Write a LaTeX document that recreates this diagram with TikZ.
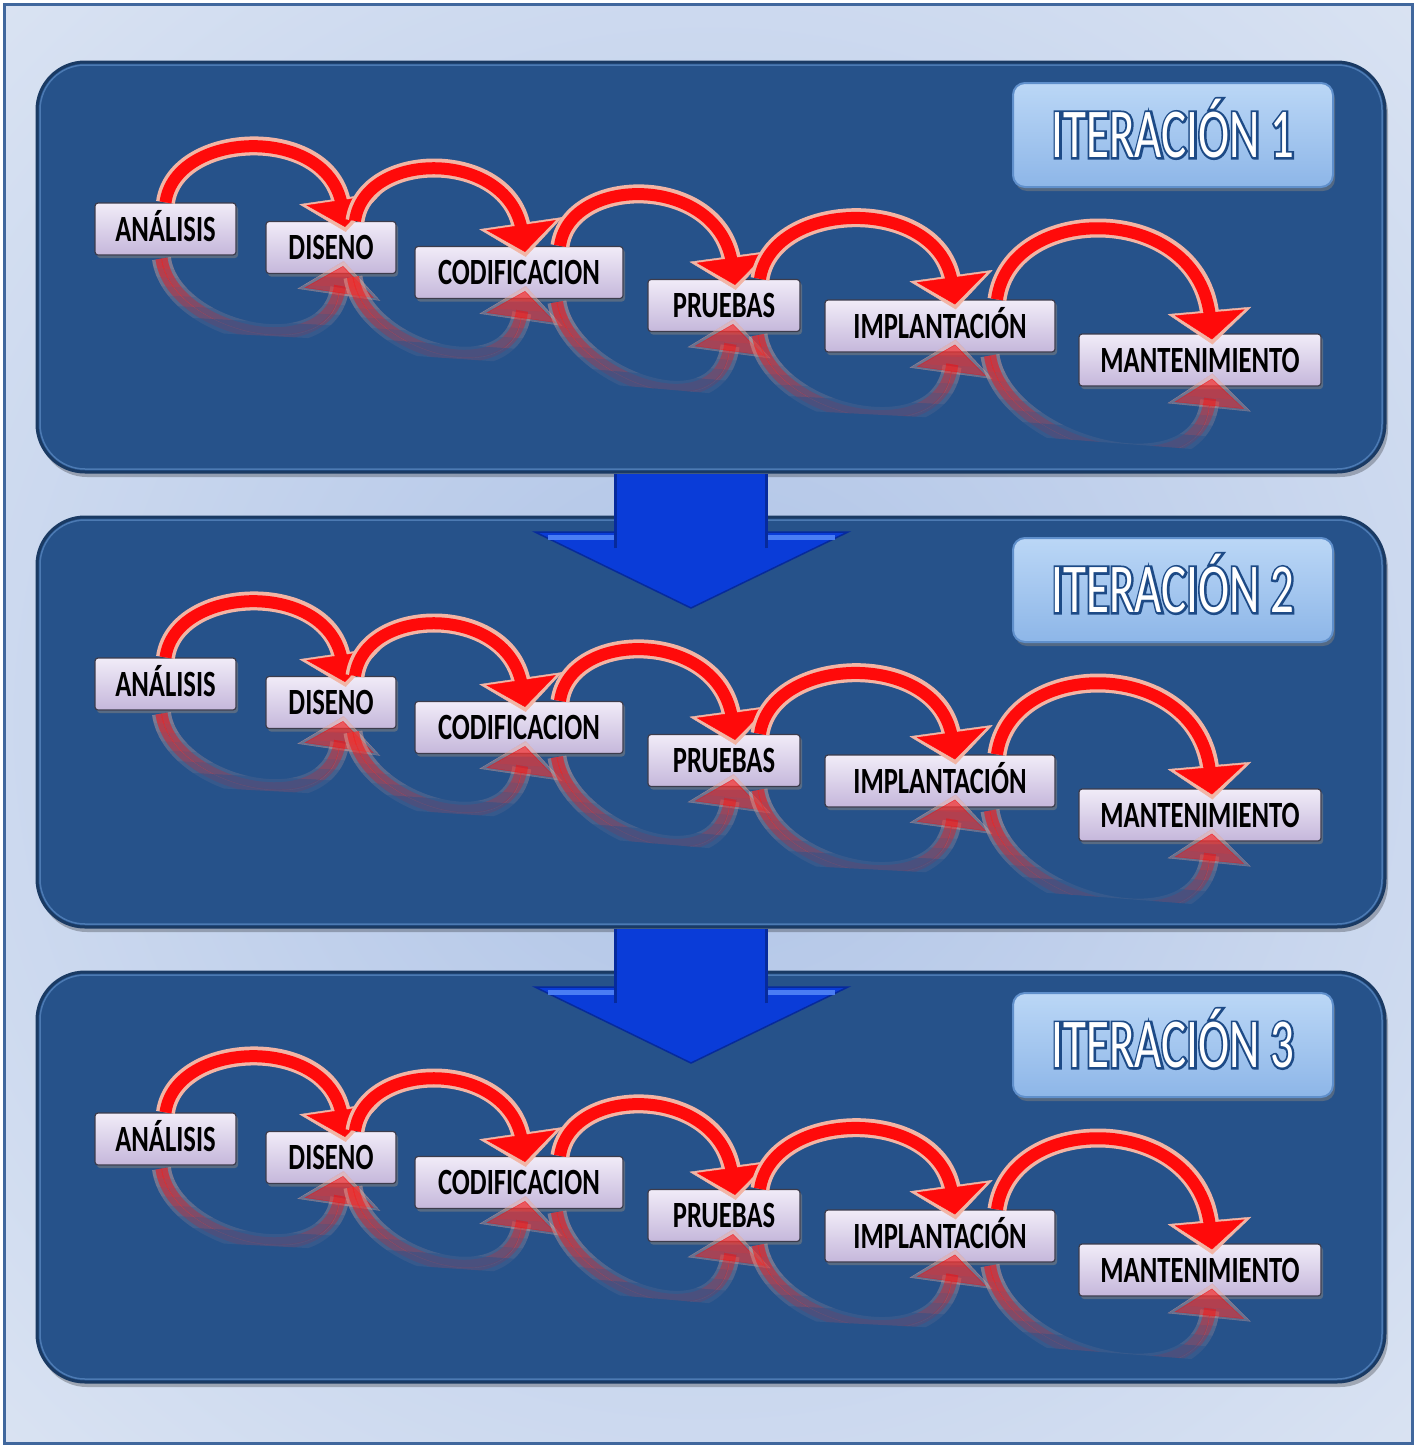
\documentclass[tikz,border=0pt]{standalone}
\usepackage{fontspec}
\newfontfamily\labfont[FakeStretch=0.72]{Carlito}
\newfontfamily\iterfont[FakeStretch=0.67]{Carlito}
\newfontfamily\iterfontO[FakeStretch=0.67,FakeBold=6]{Carlito}
\usetikzlibrary{arrows.meta,calc,shadows}

\definecolor{bgin}{HTML}{ADC2E6}
\definecolor{bgout}{HTML}{E6ECF6}
\definecolor{framec}{HTML}{40679D}
\definecolor{panelc}{HTML}{26528A}
\definecolor{paneledge}{HTML}{1A3A63}
\definecolor{panelrimc}{HTML}{4C7AB3}
\definecolor{itertop}{HTML}{BBD7F6}
\definecolor{iterbot}{HTML}{8DB6E8}
\definecolor{iteredge}{HTML}{5F8FCB}
\definecolor{itertext}{HTML}{1D4A86}
\definecolor{labtop}{HTML}{F1ECF8}
\definecolor{labbot}{HTML}{C5B7DB}
\definecolor{labedge}{HTML}{3C3C4C}
\definecolor{arrred}{HTML}{FF0A0A}
\definecolor{arrpink}{HTML}{F2B5A5}
\definecolor{bluearr}{HTML}{0A3CD8}
\definecolor{bluedark}{HTML}{062A9C}
\definecolor{bluelight}{HTML}{4A7DF4}

% white letters on a heavier dark blue copy (outline effect)
\newcommand\outlined[1]{\makebox[0pt][l]{\iterfontO\color{itertext}#1}{\iterfont\color{white}#1}}

\newcommand\flowarc[4]{%
  \draw[fA] #1 .. controls +#2 and +#3 .. #4;
  \draw[fB] #1 .. controls +#2 and +#3 .. #4;
  \draw[fC] #1 .. controls +#2 and +#3 .. #4;
  \draw[fD] #1 .. controls +#2 and +#3 .. #4;
}
% reflection: #1 from node, #2 to node, #3 start shift, #4 c1, #5 c2, #6 end shift
\newcommand\reflarc[6]{%
  \foreach \d in {8,17,26,35,45,56,70}{%
    \begin{scope}
      \clip ($(#1.south)+(-90,-60)$) -- ($(#2.south)+(90,-60)$) -- ($(#2.south)+(90,\d)$) -- ($(#1.south)+(-90,\d)$) -- cycle;
      \draw[rA] ($(#1.south)+#3$) .. controls +#4 and +#5 .. ($(#2.south)+#6$);
      \draw[rB] ($(#1.south)+#3$) .. controls +#4 and +#5 .. ($(#2.south)+#6$);
    \end{scope}}%
  \foreach \d in {8,17,26,35,45,56,70}{%
    \begin{scope}
      \clip ($(#1.south)+(-90,-60)$) -- ($(#2.south)+(90,-60)$) -- ($(#2.south)+(90,\d)$) -- ($(#1.south)+(-90,\d)$) -- cycle;
      \draw[rC] ($(#1.south)+#3$) .. controls +#4 and +#5 .. ($(#2.south)+#6$);
      \draw[rD] ($(#1.south)+#3$) .. controls +#4 and +#5 .. ($(#2.south)+#6$);
    \end{scope}}%
}

\begin{document}
\begin{tikzpicture}[x=1pt,y=-1pt,
  panelbox/.style={fill=panelc, draw=paneledge, line width=3pt, rounded corners=48pt},
  panelrim/.style={draw=panelrimc, line width=1.5pt, rounded corners=45pt},
  iterbox/.style={draw=iteredge, line width=2pt, top color=itertop, bottom color=iterbot,
    rounded corners=12pt, minimum width=320pt, minimum height=104pt, inner sep=0pt,
    text height=45pt, text depth=0pt,
    drop shadow={shadow xshift=2pt, shadow yshift=-4pt, opacity=.5}},
  lab/.style={draw=labedge, line width=1.2pt, top color=labtop, bottom color=labbot,
    rounded corners=3pt, minimum height=52pt, inner sep=0pt, text height=24pt, text depth=0pt,
    font=\labfont\bfseries\fontsize{37pt}{40pt}\selectfont,
    drop shadow={shadow xshift=2pt, shadow yshift=-3pt, opacity=.55}},
  fA/.style={draw=arrpink, line width=19pt, shorten >=22pt},
  fB/.style={draw=arrpink, line width=0.4pt, shorten >=-5pt, -{Triangle[width=84pt,length=34pt]}},
  fC/.style={draw=arrred, line width=12pt, shorten >=20pt},
  fD/.style={draw=arrred, line width=0.4pt, -{Triangle[width=70pt,length=27pt]}},
  rA/.style={fA, draw opacity=.08},
  rB/.style={fB, draw opacity=.08, fill opacity=.08},
  rC/.style={fC, draw opacity=.1},
  rD/.style={fD, draw opacity=.1, fill opacity=.1}
]
\useasboundingbox (0,0) rectangle (1419,1446);
\fill[white] (0,0) rectangle (1419,1446);
\begin{scope}
  \clip (4,4) rectangle (1412,1443);
  \shade[inner color=bgin, outer color=bgout] (709,723) circle [radius=1300pt];
\end{scope}
\draw[framec, line width=3pt] (4,4) rectangle (1412,1443);

% panels
\foreach \k in {0,1,2} {
  \begin{scope}[shift={(0,455*\k)}]
    \fill[black, opacity=.25, rounded corners=48pt] (39,66) rectangle (1388,477);
    \draw[panelbox] (37,62) rectangle (1385,472);
    \draw[panelrim] (40,65) rectangle (1382,469);
  \end{scope}
}

% down arrows
\foreach \k in {0,1} {
  \begin{scope}[shift={(0,455*\k)}]
    \fill[bluearr, draw=bluedark, line width=1.5pt] (535,532) -- (848,532) -- (691,608) -- cycle;
    \draw[bluelight, line width=5pt] (548,537) -- (616,537);
    \draw[bluelight, line width=5pt] (765,537) -- (835,537);
    \fill[bluearr] (614,474) rectangle (767,548);
    \draw[bluedark, line width=3pt] (615,548) -- (615,474);
    \draw[bluedark, line width=3pt] (766,548) -- (766,474);
  \end{scope}
}

% panel contents
\foreach \k/\n in {0/1,1/2,2/3} {
  \begin{scope}[shift={(0,455*\k)}]
    \node[iterbox] (it\n) at (1173,135) {\fontsize{70pt}{72pt}\selectfont\outlined{ITERACIÓN \n}};

    \node[lab, minimum width=141pt] (ana\n) at (165.5,229)   {ANÁLISIS};
    \node[lab, minimum width=130pt] (dis\n) at (331,247.5)   {DISENO};
    \node[lab, minimum width=208pt] (cod\n) at (519,272.5)   {CODIFICACION};
    \node[lab, minimum width=152pt] (pru\n) at (724,305.5)   {PRUEBAS};
    \node[lab, minimum width=230pt] (imp\n) at (940,326)     {IMPLANTACIÓN};
    \node[lab, minimum width=242pt] (man\n) at (1200,360)    {MANTENIMIENTO};

    % reflections
    \reflarc{ana\n}{dis\n}{(-4,3)}{(10,73)}{(-15,103)}{(12,-8)}
    \reflarc{dis\n}{cod\n}{(22,3)}{(10,72)}{(-15,103)}{(6,-8)}
    \reflarc{cod\n}{pru\n}{(38,3)}{(10,72)}{(-15,111)}{(9,-8)}
    \reflarc{pru\n}{imp\n}{(34,3)}{(12,80)}{(-15,110)}{(15,-8)}
    \reflarc{imp\n}{man\n}{(50,3)}{(13,90)}{(-12,120)}{(12,-8)}

    % process arrows
    \flowarc{(ana\n.north)}{(10,-73)}{(-15,-103)}{($(dis\n.north)+(14,6)$)}
    \flowarc{($(dis\n.north)+(24,0)$)}{(10,-72)}{(-15,-103)}{($(cod\n.north)+(6,6)$)}
    \flowarc{($(cod\n.north)+(41,0)$)}{(10,-72)}{(-15,-111)}{($(pru\n.north)+(11,6)$)}
    \flowarc{($(pru\n.north)+(36,0)$)}{(12,-80)}{(-15,-110)}{($(imp\n.north)+(15,5)$)}
    \flowarc{($(imp\n.north)+(57,0)$)}{(13,-98)}{(-12,-138)}{($(man\n.north)+(12,6)$)}
  \end{scope}
}
\end{tikzpicture}
\end{document}
